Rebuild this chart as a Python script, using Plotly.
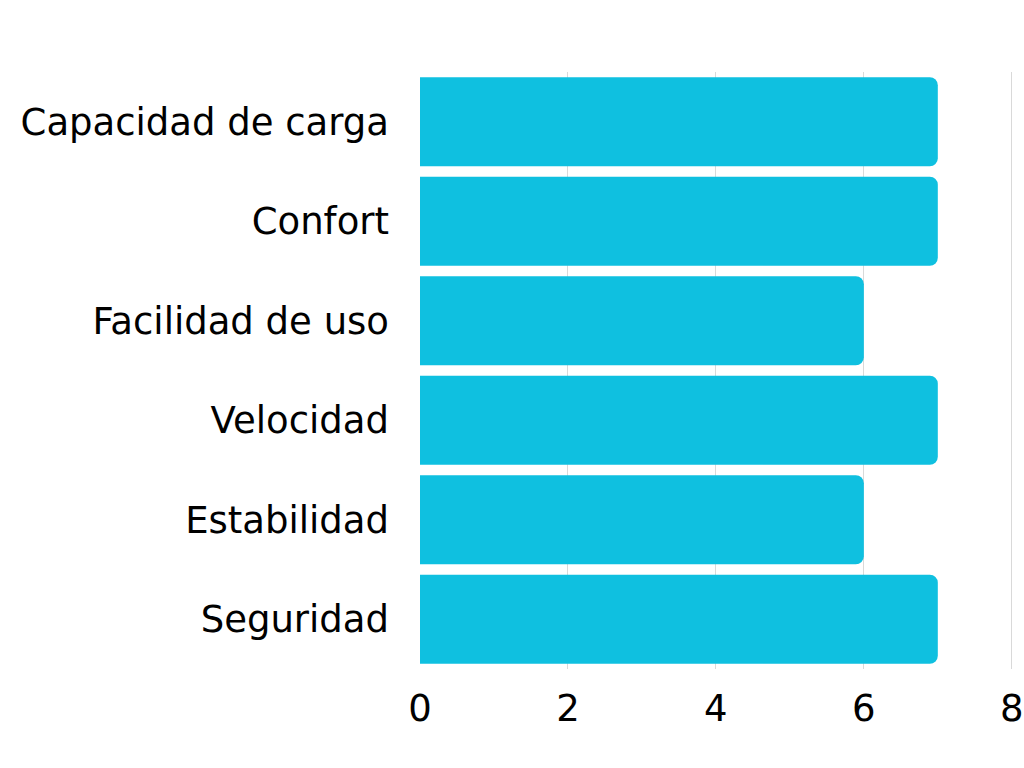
import plotly.graph_objects as go

# datos
categorias = ['Capacidad de carga', 'Confort', 'Facilidad de uso',
              'Velocidad', 'Estabilidad', 'Seguridad']
valores = [7, 7, 6, 7, 6, 7]
ticks_x = [0, 2, 4, 6, 8]

fig = go.Figure(go.Bar(
    x=valores, y=categorias, orientation='h',
    marker=dict(color='#0FC0E0', cornerradius=8, line=dict(width=0)),
))

fig.update_layout(
    width=1024, height=768,
    margin=dict(l=420, r=10, t=72, b=99),
    paper_bgcolor='white', plot_bgcolor='white',
    bargap=0.105,
    showlegend=False,
    font=dict(family='DejaVu Sans', size=37, color='black'),
)

# rango un poco mayor que 8 para que plotly no recorte la línea del 8
fig.update_xaxes(range=[0, 8.03], tickvals=ticks_x, showgrid=True,
                 gridcolor='#d9d9d9', gridwidth=1, zeroline=False,
                 showline=False, ticklabelstandoff=14, automargin=False)
fig.update_yaxes(autorange='reversed', showgrid=False, showline=False,
                 ticklabelstandoff=30, automargin=False)

# quitar el margen del body para que no salgan barras de desplazamiento
fig.write_html('out.html', config={'displayModeBar': False},
               post_script="document.body.style.margin='0';document.body.style.overflow='hidden';")
